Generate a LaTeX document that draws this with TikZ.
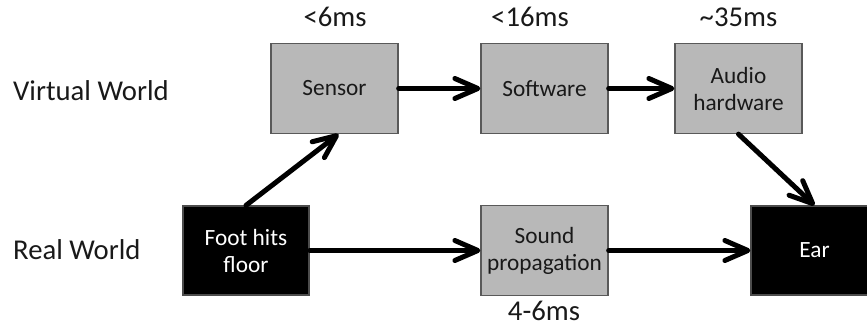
\documentclass[tikz,border=0pt]{standalone}
\usepackage{fontspec}
\setmainfont{Carlito}
\usetikzlibrary{arrows.meta}
\tikzset{
  graybox/.style={draw=black!65, line width=1.3pt, fill=black!28, minimum width=127pt, minimum height=90pt, inner sep=2pt, align=center, font=\fontsize{23.3}{27}\selectfont, text=black!90},
  blackbox/.style={draw=black!70, line width=1.3pt, fill=black, minimum width=126pt, minimum height=89pt, inner sep=2pt, align=center, font=\fontsize{23.3}{27}\selectfont, text=white},
  lbl/.style={anchor=base, inner sep=0pt, font=\fontsize{28.7}{34}\selectfont, text=black!90},
  side/.style={anchor=base west, inner sep=0pt, font=\fontsize{28.7}{34}\selectfont, text=black!90},
  conn/.style={line width=5pt, line cap=round, -{Straight Barb[length=23pt, width=20pt, round]}},
}
\begin{document}
\begin{tikzpicture}[x=1pt, y=-1pt]
\useasboundingbox (0,0) rectangle (867,328);
\begin{scope}
\clip (0,0) rectangle (867,328);
\node[graybox] (sensor) at (334.5,88.5) {Sensor};
\node[graybox] (software) at (544.5,88.5) {Software};
\node[graybox] (audio) at (738.5,88.5) {Audio\\hardware};
\node[blackbox] (foot) at (246,250.5) {Foot hits\\floor};
\node[graybox] (sound) at (544.5,250.5) {Sound\\propagation};
\node[blackbox, minimum width=127pt] (ear) at (814.5,250.5) {Ear};

\node[lbl] (l1) at (335,27) {<6ms};
\node[lbl] (l2) at (530,27) {<16ms};
\node[lbl] (l3) at (738.5,27) {\textasciitilde35ms};
\node[lbl] (l4) at (544,321) {4-6ms};
\node[side] (vw) at (13,101) {Virtual World};
\node[side] (rw) at (13,260) {Real World};

\draw[conn] (sensor.east) -- (software.west);
\draw[conn] (software.east) -- (audio.west);
\draw[conn] (foot.east) -- (sound.west);
\draw[conn] (sound.east) -- (ear.west);
\draw[conn] (foot.north) -- ([xshift=4pt]sensor.south);
\draw[conn] (audio.south) -- (ear.north);
\end{scope}
\end{tikzpicture}
\end{document}
